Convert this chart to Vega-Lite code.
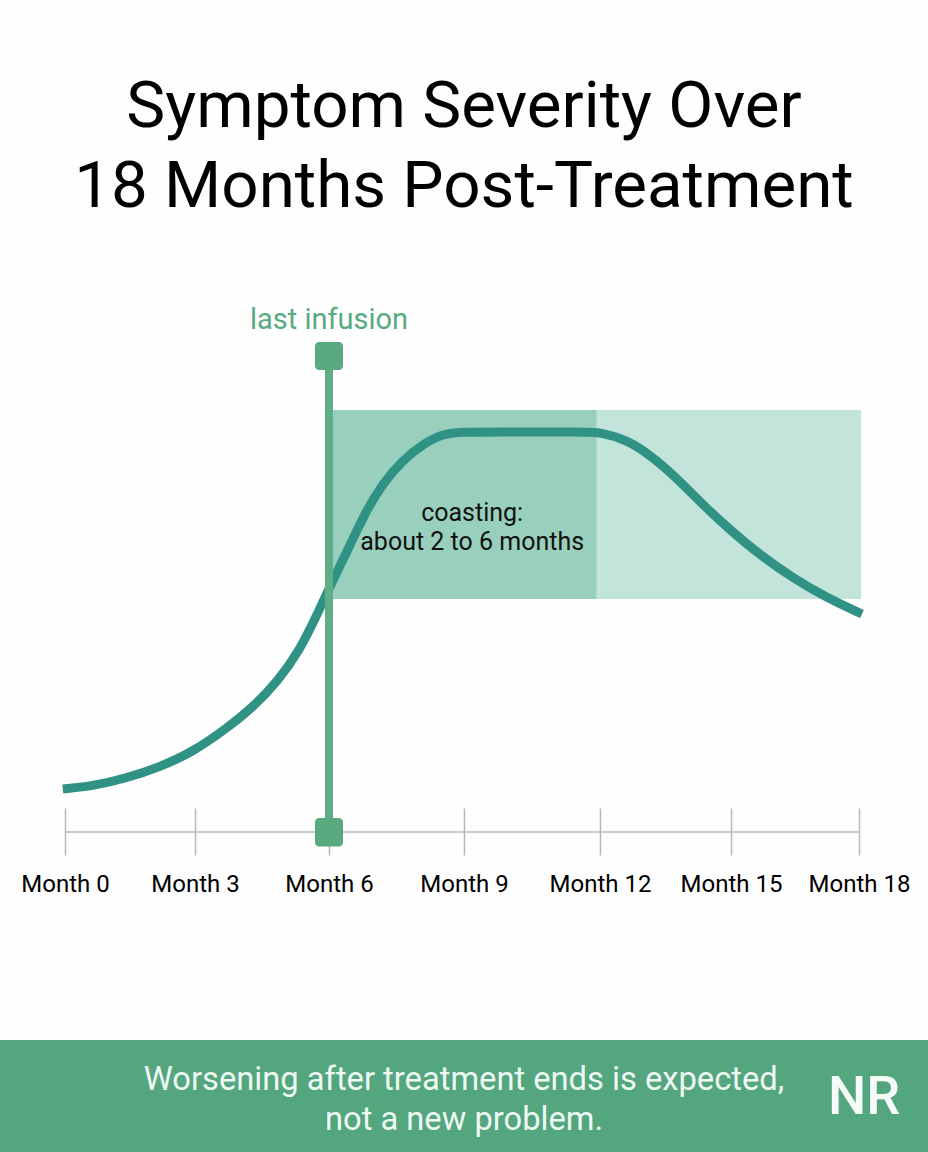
{
  "$schema": "https://vega.github.io/schema/vega-lite/v6.json",
  "width": 794,
  "height": 1152,
  "autosize": "none",
  "padding": {"left": 65, "right": 69, "top": 0, "bottom": 0},
  "background": "#fefefe",
  "title": {
    "text": ["Symptom Severity Over", "18 Months Post-Treatment"],
    "font": "Roboto",
    "fontSize": 65.5,
    "fontWeight": 400,
    "lineHeight": 80,
    "color": "#000000",
    "anchor": "middle",
    "dx": 2,
    "offset": -220
  },
  "datasets": {
    "curve": [
      {"month": -0.05, "severity": 10.75},
      {"month": 0.65, "severity": 11.5},
      {"month": 1.43, "severity": 13.5},
      {"month": 2.19, "severity": 16.25},
      {"month": 2.95, "severity": 20},
      {"month": 3.72, "severity": 26},
      {"month": 4.3, "severity": 31.25},
      {"month": 4.84, "severity": 37.5},
      {"month": 5.35, "severity": 45.5},
      {"month": 5.75, "severity": 54.75},
      {"month": 6.09, "severity": 63},
      {"month": 6.47, "severity": 71.75},
      {"month": 6.8, "severity": 79.75},
      {"month": 7.2, "severity": 87.25},
      {"month": 7.64, "severity": 93},
      {"month": 8.09, "severity": 97},
      {"month": 8.53, "severity": 99.5},
      {"month": 8.91, "severity": 100},
      {"month": 9.79, "severity": 100},
      {"month": 11.6, "severity": 100},
      {"month": 12, "severity": 100},
      {"month": 12.62, "severity": 98},
      {"month": 13.15, "severity": 94.25},
      {"month": 13.76, "severity": 88.5},
      {"month": 14.36, "severity": 81.75},
      {"month": 14.98, "severity": 75.5},
      {"month": 15.68, "severity": 69.25},
      {"month": 16.45, "severity": 63.5},
      {"month": 17.25, "severity": 58.5},
      {"month": 18.07, "severity": 54.5}
    ],
    "bands": [
      {"month": 6, "end": 11.93, "severity": 58.25, "high": 105.5, "phase": "coasting"},
      {"month": 11.93, "end": 18.05, "severity": 58.25, "high": 105.5, "phase": "fading"}
    ]
  },
  "data": {"name": "curve"},
  "encoding": {
    "x": {
      "field": "month",
      "type": "quantitative",
      "title": null,
      "scale": {
        "domain": [0, 3, 6, 9, 12, 15, 18],
        "range": [0, 130, 264, 399, 535, 666, 794],
        "padding": 0
      },
      "axis": {
        "values": [0, 3, 6, 9, 12, 15, 18],
        "labelExpr": "'Month ' + datum.value",
        "offset": -344,
        "domain": false,
        "grid": false,
        "tickSize": 47,
        "tickWidth": 1.5,
        "tickColor": "#b8b8b8",
        "labelFont": "Roboto",
        "labelFontSize": 24,
        "labelColor": "#000000",
        "labelPadding": 17,
        "labelOverlap": false,
        "labelFlush": false
      }
    },
    "y": {
      "field": "severity",
      "type": "quantitative",
      "scale": {"domain": [-80, 208], "nice": false, "zero": false, "padding": 0},
      "axis": null
    }
  },
  "layer": [
    {
      "data": {"values": [{"month": -1.6, "end": 20, "severity": -80, "high": -52}]},
      "mark": {"type": "rect", "color": "#53a67e"},
      "encoding": {
        "x2": {"field": "end"},
        "y2": {"field": "high"}
      }
    },
    {
      "data": {"name": "bands"},
      "mark": "rect",
      "encoding": {
        "x2": {"field": "end"},
        "y2": {"field": "high"},
        "color": {
          "field": "phase",
          "type": "nominal",
          "scale": {"domain": ["coasting", "fading"], "range": ["#98cfbd", "#c2e4da"]},
          "legend": null
        }
      }
    },
    {
      "data": {"values": [{"month": 0, "end": 18, "severity": 0}]},
      "mark": {"type": "rule", "color": "#b8b8b8", "strokeWidth": 1.5},
      "encoding": {
        "x2": {"field": "end"}
      }
    },
    {
      "mark": {"type": "line", "color": "#2f9285", "strokeWidth": 9, "interpolate": "basis", "strokeCap": "butt"},
      "encoding": {}
    },
    {
      "data": {"values": [{"month": 6, "severity": 119, "bottom": 0}]},
      "mark": {"type": "rule", "color": "#5fae85", "strokeWidth": 8},
      "encoding": {
        "y2": {"field": "bottom"}
      }
    },
    {
      "data": {"values": [
        {"month": 6, "severity": 122.5, "bottom": 115.5},
        {"month": 6, "severity": 3.5, "bottom": -3.6}
      ]},
      "mark": {"type": "bar", "color": "#5aaa80", "size": 28, "cornerRadius": 4, "orient": "vertical"},
      "encoding": {
        "y2": {"field": "bottom"}
      }
    },
    {
      "data": {"values": [{"month": 6, "severity": 128, "label": "last infusion"}]},
      "mark": {"type": "text", "font": "Roboto", "fontSize": 29, "align": "center", "baseline": "middle", "color": "#5aaa80"},
      "encoding": {
        "text": {"field": "label", "type": "nominal"}
      }
    },
    {
      "data": {"values": [
        {"month": 9.18, "severity": 79.75, "label": "coasting:"},
        {"month": 9.18, "severity": 72.5, "label": "about 2 to 6 months"}
      ]},
      "mark": {"type": "text", "font": "Roboto", "fontSize": 25, "align": "center", "baseline": "middle", "color": "#111111"},
      "encoding": {
        "text": {"field": "label", "type": "nominal"}
      }
    },
    {
      "data": {"values": [
        {"month": 9, "severity": -62, "label": "Worsening after treatment ends is expected,"},
        {"month": 9, "severity": -72, "label": "not a new problem."}
      ]},
      "mark": {"type": "text", "font": "Roboto", "fontSize": 32.7, "align": "center", "baseline": "middle", "color": "#eef9f3"},
      "encoding": {
        "text": {"field": "label", "type": "nominal"}
      }
    },
    {
      "data": {"values": [{"month": 18.12, "severity": -66.5, "label": "NR"}]},
      "mark": {"type": "text", "font": "Roboto", "fontWeight": 500, "fontSize": 54, "align": "center", "baseline": "middle", "color": "#f4fbf8"},
      "encoding": {
        "text": {"field": "label", "type": "nominal"}
      }
    }
  ],
  "config": {"view": {"stroke": null}, "font": "Roboto"}
}
